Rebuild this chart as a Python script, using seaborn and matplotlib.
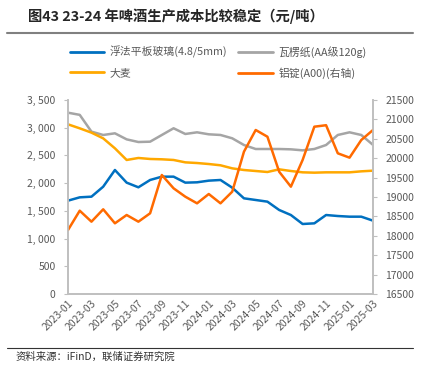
import matplotlib
matplotlib.use('Agg')
import matplotlib.pyplot as plt
import seaborn as sns
import pandas as pd
from matplotlib.lines import Line2D

months = ['2023-01', '2023-02', '2023-03', '2023-04', '2023-05', '2023-06', '2023-07',
          '2023-08', '2023-09', '2023-10', '2023-11', '2023-12', '2024-01', '2024-02',
          '2024-03', '2024-04', '2024-05', '2024-06', '2024-07', '2024-08', '2024-09',
          '2024-10', '2024-11', '2024-12', '2025-01', '2025-02', '2025-03']

glass = [1684, 1744, 1756, 1936, 2237, 2009, 1925, 2057, 2117, 2117, 2009, 2015, 2045, 2057,
         1918, 1726, 1696, 1666, 1516, 1425, 1263, 1275, 1425, 1407, 1395, 1395, 1323]
paper = [3271, 3232, 2929, 2869, 2899, 2790, 2742, 2748, 2869, 2990, 2887, 2917, 2881, 2869,
         2809, 2688, 2616, 2616, 2616, 2610, 2592, 2616, 2688, 2869, 2917, 2869, 2690]
barley = [3061, 2989, 2911, 2808, 2628, 2418, 2454, 2436, 2430, 2418, 2375, 2363, 2345, 2322,
          2267, 2237, 2219, 2201, 2249, 2219, 2195, 2189, 2195, 2195, 2195, 2213, 2225]
aluminium = [18149, 18647, 18364, 18683, 18322, 18536, 18364, 18580, 19567, 19224, 19008, 18837,
             19077, 18837, 19137, 20168, 20727, 20554, 19652, 19266, 19954, 20812, 20850, 20126,
             20014, 20469, 20727]

labels = ['浮法平板玻璃(4.8/5mm)', '瓦楞纸(AA级120g)', '大麦', '铝锭(A00)(右轴)']
colors = ['#0070C0', '#A5A5A5', '#FFA800', '#FF6A00']

sns.set_theme(style='white')
plt.rcParams['font.family'] = ['Noto Sans CJK SC', 'DejaVu Sans']
plt.rcParams['axes.unicode_minus'] = False

df = pd.DataFrame({'idx': range(len(months)), 'glass': glass, 'paper': paper,
                   'barley': barley, 'aluminium': aluminium})

fig = plt.figure(figsize=(4.33, 3.72), dpi=100)
ax = fig.add_axes([68 / 433, 1 - 294 / 372, 305 / 433, 194 / 372])
ax2 = ax.twinx()

lw = 1.8
sns.lineplot(data=df, x='idx', y='glass', ax=ax, color=colors[0], linewidth=lw)
sns.lineplot(data=df, x='idx', y='paper', ax=ax, color=colors[1], linewidth=lw)
sns.lineplot(data=df, x='idx', y='barley', ax=ax, color=colors[2], linewidth=lw)
sns.lineplot(data=df, x='idx', y='aluminium', ax=ax2, color=colors[3], linewidth=lw)

grey_txt = '#595959'
ax.set_ylim(0, 3500)
ax.set_yticks(range(0, 3501, 500))
ax.set_yticklabels([f'{v:,}'.replace(',', ', ') for v in range(0, 3501, 500)])
ax2.set_ylim(16500, 21500)
ax2.set_yticks(range(16500, 21501, 500))
ax.set_xlim(0, len(months) - 1)
ax.set_xticks(range(0, len(months), 2))
ax.set_xticklabels(months[::2], rotation=45, ha='right', rotation_mode='anchor')

for a in (ax, ax2):
    a.set_xlabel('')
    a.set_ylabel('')
    for s in a.spines.values():
        s.set_color('#BFBFBF')
        s.set_linewidth(1.2)
    a.spines['top'].set_visible(False)
    a.tick_params(labelsize=7.5, colors=grey_txt, length=3, width=0.8)
    a.tick_params(axis='y', color='#BFBFBF')
ax.tick_params(axis='x', length=0, pad=3)
ax.tick_params(axis='y', direction='out', pad=6)
ax2.tick_params(axis='y', direction='out', pad=6)

handles = [Line2D([], [], color=c, linewidth=2) for c in colors]
order = [0, 2, 1, 3]
fig.legend([handles[i] for i in order], [labels[i] for i in order], ncol=2,
           loc='upper left', bbox_to_anchor=(60 / 433, 1 - 36 / 372), frameon=False,
           fontsize=7.8, handlelength=3.2, handletextpad=0.5, columnspacing=1.0,
           labelspacing=0.9, labelcolor=grey_txt)

fig.text(28 / 433, 1 - 16 / 372, '图43 23-24 年啤酒生产成本比较稳定（元/吨）', fontsize=10.3,
         fontweight='bold', va='center', ha='left')
fig.add_artist(Line2D([7 / 433, 413 / 433], [1 - 33 / 372, 1 - 33 / 372], color='#808080',
                      linewidth=1.5))
fig.add_artist(Line2D([7 / 433, 413 / 433], [1 - 348 / 372, 1 - 348 / 372], color='#333333',
                      linewidth=0.8))
fig.text(16 / 433, 1 - 357 / 372, '资料来源：iFinD，联储证券研究院', fontsize=7.5,
         va='center', ha='left', color='#333333')

fig.savefig('out.png', dpi=100)
